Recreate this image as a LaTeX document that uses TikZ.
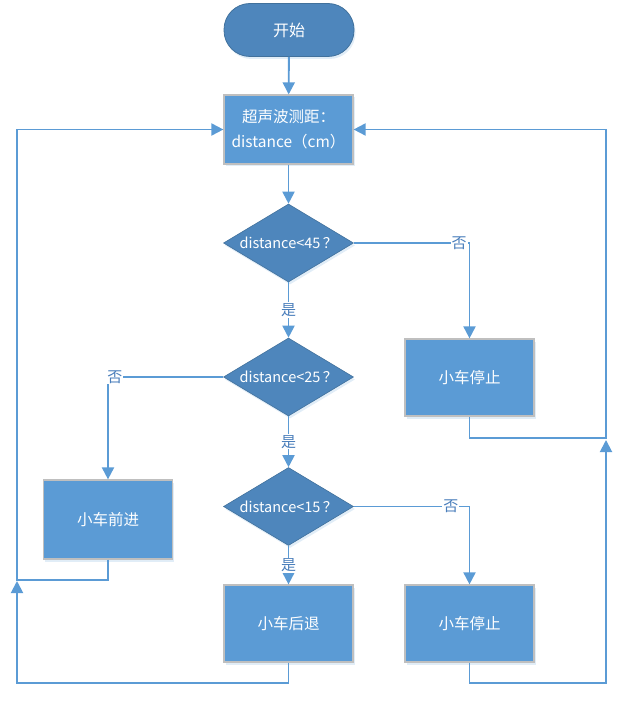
\documentclass[tikz,border=0pt]{standalone}
\usepackage{fontspec}
\setmainfont{Noto Sans CJK SC}
\usetikzlibrary{shapes.geometric,arrows.meta,shadows}
\definecolor{boxblue}{HTML}{5B9BD5}
\definecolor{darkblue}{HTML}{4E86BC}
\definecolor{edgeblue}{HTML}{41719C}
\definecolor{lineblue}{HTML}{5B9BD5}
\definecolor{labblue}{HTML}{4A7EBB}
\definecolor{boxgray}{HTML}{BFBFBF}
\begin{document}
\begin{tikzpicture}[x=1pt,y=-1pt,
  txt/.style={font=\fontsize{15.5}{25}\selectfont, text=white, align=center},
  startbox/.style={txt, font=\fontsize{16}{20}\selectfont, draw=edgeblue, fill=darkblue, line width=0.8pt, rounded corners=26pt, minimum width=130pt, minimum height=53pt, inner sep=0pt,
     drop shadow={shadow xshift=1.5pt, shadow yshift=-2.5pt, fill=boxblue, opacity=0.18}},
  procbox/.style={txt, draw=boxgray, fill=boxblue, line width=1.2pt, minimum width=129pt, minimum height=77pt, inner sep=0pt,
     drop shadow={shadow xshift=1.5pt, shadow yshift=-2.5pt, fill=boxblue, opacity=0.18}},
  decbox/.style={txt, font=\fontsize{14.5}{17}\selectfont, diamond, aspect=2, draw=edgeblue, fill=darkblue, line width=0.6pt, minimum width=130pt, minimum height=78pt, inner sep=0pt,
     drop shadow={shadow xshift=1.5pt, shadow yshift=-2.5pt, fill=boxblue, opacity=0.18}},
  conn/.style={draw=lineblue, line width=1.9pt, -{Triangle[width=12pt,length=12pt]}},
  lab/.style={font=\fontsize{15}{17}\selectfont, text=labblue, fill=white, inner sep=1pt}
]
\useasboundingbox (0,0) rectangle (624,703);

\node[startbox] (start) at (289,30) {开始};
\node[procbox, minimum height=69pt] (measure) at (288.5,129.5) {超声波测距：\\distance（cm）};
\node[decbox] (d1) at (288.5,243) {distance<45\,？};
\node[decbox] (d2) at (288.5,377) {distance<25\,？};
\node[decbox] (d3) at (288.5,506.5) {distance<15\,？};
\node[procbox] (stop1) at (469.5,377.5) {小车停止};
\node[procbox, minimum height=79pt] (fwd) at (108,519.5) {小车前进};
\node[procbox] (back) at (288.5,623.5) {小车后退};
\node[procbox] (stop2) at (469.5,623.5) {小车停止};

\coordinate (L1) at (17,580);
\coordinate (L2) at (17,683);
\coordinate (R1) at (606,438);
\coordinate (R2) at (606,683);

\draw[conn] (start) -- (measure);
\draw[conn] (measure) -- (d1);
\draw[conn] (d1) -- node[lab, midway] {是} (d2);
\draw[conn] (d2) -- node[lab, midway] {是} (d3);
\draw[conn] (d3) -- node[lab, midway] {是} (back);
\draw[conn] (d1.east) -| node[lab, pos=0.455] {否} (stop1.north);
\draw[conn] (d2.west) -| node[lab, pos=0.47] {否} (fwd.north);
\draw[conn] (d3.east) -| node[lab, pos=0.42] {否} (stop2.north);

\draw[conn] (fwd.south) |- (L1) |- (measure.west);
\draw[conn] (back.south) |- (L2) -- ([yshift=-1pt]L1);
\draw[conn] (stop1.south) |- (R1) |- (measure.east);
\draw[conn] (stop2.south) |- (R2) -- ([yshift=-2pt]R1);
\end{tikzpicture}
\end{document}
